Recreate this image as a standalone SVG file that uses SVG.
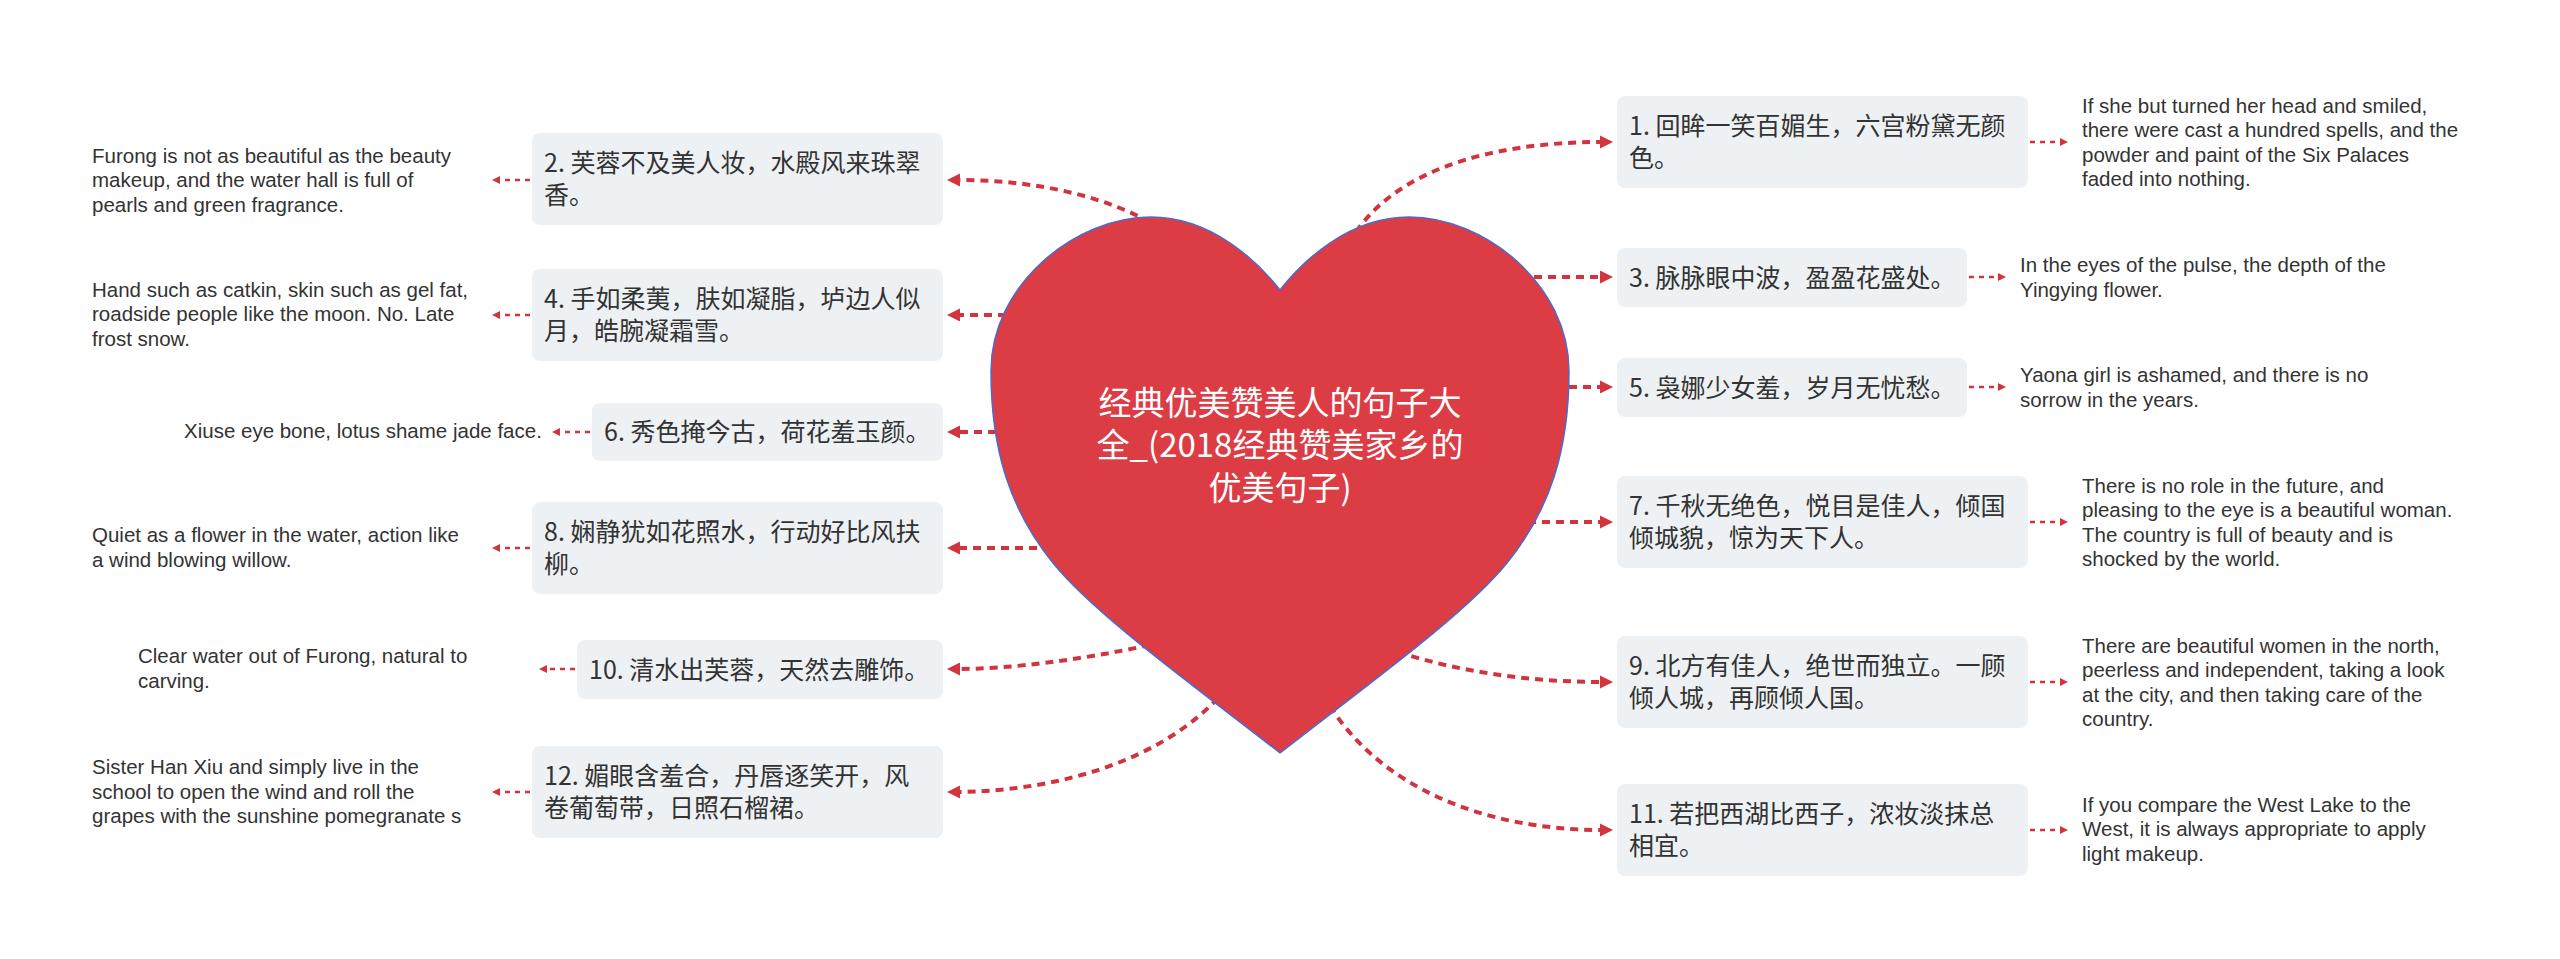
<svg xmlns="http://www.w3.org/2000/svg" width="2560" height="959" viewBox="0 0 2560 959">
<defs>
<style>
.box{fill:#eef1f4;}
.bt{font-family:"Noto Sans CJK SC","Noto Sans CJK TC",sans-serif;font-size:25px;fill:#333333;}
.en{font-family:"Liberation Sans",Arial,sans-serif;font-size:20.5px;fill:#333333;}
.main{fill:none;stroke:#d0343f;stroke-width:4;stroke-dasharray:8 6;marker-end:url(#ab);}
.sub{fill:none;stroke:#d0343f;stroke-width:2.5;stroke-dasharray:5 5;marker-end:url(#as);}
.ct{font-family:"Noto Sans CJK SC","Noto Sans CJK TC",sans-serif;font-size:33px;fill:#ffffff;text-anchor:middle;}
</style>
<marker id="ab" markerUnits="userSpaceOnUse" markerWidth="14" markerHeight="14" refX="3" refY="6.5" orient="auto" overflow="visible">
<path d="M0,0 L13,6.5 L0,13 Z" fill="#d0343f"/>
</marker>
<marker id="as" markerUnits="userSpaceOnUse" markerWidth="9" markerHeight="9" refX="2" refY="4" orient="auto" overflow="visible">
<path d="M0,0 L8,4 L0,8 Z" fill="#d0343f"/>
</marker>
</defs>
<rect width="2560" height="959" fill="#ffffff"/>

<g id="connectors">
<path class="main" d="M1150,222 C1090,190 1020,180 957,180"/>
<path class="main" d="M1020,315 L957,315"/>
<path class="main" d="M1010,432 L957,432"/>
<path class="main" d="M1065,548 L957,548"/>
<path class="main" d="M1150,645 C1080,660 1010,669 957,669"/>
<path class="main" d="M1218,698 C1160,760 1060,791 957,792"/>
<path class="main" d="M1356,232 C1395,175 1480,142 1603,142"/>
<path class="main" d="M1520,277 L1603,277"/>
<path class="main" d="M1555,387 L1603,387"/>
<path class="main" d="M1500,522 L1603,522"/>
<path class="main" d="M1398,652 C1460,672 1530,682 1603,682"/>
<path class="main" d="M1330,706 C1380,785 1480,830 1603,830"/>
<path class="sub" d="M530,180 L498,180"/>
<path class="sub" d="M530,315 L498,315"/>
<path class="sub" d="M590,432 L558,432"/>
<path class="sub" d="M530,548 L498,548"/>
<path class="sub" d="M575,669 L545,669"/>
<path class="sub" d="M530,792 L498,792"/>
<path class="sub" d="M2030,142 L2062,142"/>
<path class="sub" d="M1969,277 L2000,277"/>
<path class="sub" d="M1969,387 L2000,387"/>
<path class="sub" d="M2030,522 L2062,522"/>
<path class="sub" d="M2030,682 L2062,682"/>
<path class="sub" d="M2030,830 L2062,830"/>
</g>

<g id="center">
<path d="M1280,290 C1258,262 1212,217 1151,217 C1075,217 991,285 991,371 C991,450 1010,510 1053,563 C1096,616 1200,690 1280,753 C1360,690 1464,616 1507,563 C1550,510 1569,450 1569,371 C1569,285 1485,217 1409,217 C1348,217 1302,262 1280,290 Z" fill="#dc3d45" stroke="#4a6bd0" stroke-width="1.5"/>
<text class="ct"><tspan x="1280" y="415">经典优美赞美人的句子大</tspan><tspan x="1280" y="457">全_(2018经典赞美家乡的</tspan><tspan x="1280" y="500">优美句子)</tspan></text>
</g>

<g id="n1"><rect class="box" x="1617" y="96" width="411" height="92" rx="8"/><text class="bt" x="1629" y="135">1. 回眸一笑百媚生，六宫粉黛无颜</text><text class="bt" x="1629" y="167">色。</text></g>
<g id="n3"><rect class="box" x="1617" y="248" width="350" height="59" rx="8"/><text class="bt" x="1629" y="287">3. 脉脉眼中波，盈盈花盛处。</text></g>
<g id="n5"><rect class="box" x="1617" y="358" width="350" height="59" rx="8"/><text class="bt" x="1629" y="397">5. 袅娜少女羞，岁月无忧愁。</text></g>
<g id="n7"><rect class="box" x="1617" y="476" width="411" height="92" rx="8"/><text class="bt" x="1629" y="515">7. 千秋无绝色，悦目是佳人，倾国</text><text class="bt" x="1629" y="547">倾城貌，惊为天下人。</text></g>
<g id="n9"><rect class="box" x="1617" y="636" width="411" height="92" rx="8"/><text class="bt" x="1629" y="675">9. 北方有佳人，绝世而独立。一顾</text><text class="bt" x="1629" y="707">倾人城，再顾倾人国。</text></g>
<g id="n11"><rect class="box" x="1617" y="784" width="411" height="92" rx="8"/><text class="bt" x="1629" y="823">11. 若把西湖比西子，浓妆淡抹总</text><text class="bt" x="1629" y="855">相宜。</text></g>

<g id="n2"><rect class="box" x="532" y="133" width="411" height="92" rx="8"/><text class="bt" x="544" y="172">2. 芙蓉不及美人妆，水殿风来珠翠</text><text class="bt" x="544" y="204">香。</text></g>
<g id="n4"><rect class="box" x="532" y="269" width="411" height="92" rx="8"/><text class="bt" x="544" y="308">4. 手如柔荑，肤如凝脂，垆边人似</text><text class="bt" x="544" y="340">月，皓腕凝霜雪。</text></g>
<g id="n6"><rect class="box" x="592" y="403" width="351" height="58" rx="8"/><text class="bt" x="604" y="441">6. 秀色掩今古，荷花羞玉颜。</text></g>
<g id="n8"><rect class="box" x="532" y="502" width="411" height="92" rx="8"/><text class="bt" x="544" y="541">8. 娴静犹如花照水，行动好比风扶</text><text class="bt" x="544" y="573">柳。</text></g>
<g id="n10"><rect class="box" x="577" y="640" width="366" height="59" rx="8"/><text class="bt" x="589" y="679">10. 清水出芙蓉，天然去雕饰。</text></g>
<g id="n12"><rect class="box" x="532" y="746" width="411" height="92" rx="8"/><text class="bt" x="544" y="785">12. 媚眼含羞合，丹唇逐笑开，风</text><text class="bt" x="544" y="817">卷葡萄带，日照石榴裙。</text></g>

<g id="t1"><text class="en" x="2082" y="113">If she but turned her head and smiled,</text><text class="en" x="2082" y="137">there were cast a hundred spells, and the</text><text class="en" x="2082" y="162">powder and paint of the Six Palaces</text><text class="en" x="2082" y="186">faded into nothing.</text></g>
<g id="t3"><text class="en" x="2020" y="272">In the eyes of the pulse, the depth of the</text><text class="en" x="2020" y="297">Yingying flower.</text></g>
<g id="t5"><text class="en" x="2020" y="382">Yaona girl is ashamed, and there is no</text><text class="en" x="2020" y="407">sorrow in the years.</text></g>
<g id="t7"><text class="en" x="2082" y="493">There is no role in the future, and</text><text class="en" x="2082" y="517">pleasing to the eye is a beautiful woman.</text><text class="en" x="2082" y="542">The country is full of beauty and is</text><text class="en" x="2082" y="566">shocked by the world.</text></g>
<g id="t9"><text class="en" x="2082" y="653">There are beautiful women in the north,</text><text class="en" x="2082" y="677">peerless and independent, taking a look</text><text class="en" x="2082" y="702">at the city, and then taking care of the</text><text class="en" x="2082" y="726">country.</text></g>
<g id="t11"><text class="en" x="2082" y="812">If you compare the West Lake to the</text><text class="en" x="2082" y="836">West, it is always appropriate to apply</text><text class="en" x="2082" y="861">light makeup.</text></g>

<g id="t2"><text class="en" x="92" y="163">Furong is not as beautiful as the beauty</text><text class="en" x="92" y="187">makeup, and the water hall is full of</text><text class="en" x="92" y="212">pearls and green fragrance.</text></g>
<g id="t4"><text class="en" x="92" y="297">Hand such as catkin, skin such as gel fat,</text><text class="en" x="92" y="321">roadside people like the moon. No. Late</text><text class="en" x="92" y="346">frost snow.</text></g>
<g id="t6"><text class="en" x="184" y="438">Xiuse eye bone, lotus shame jade face.</text></g>
<g id="t8"><text class="en" x="92" y="542">Quiet as a flower in the water, action like</text><text class="en" x="92" y="567">a wind blowing willow.</text></g>
<g id="t10"><text class="en" x="138" y="663">Clear water out of Furong, natural to</text><text class="en" x="138" y="688">carving.</text></g>
<g id="t12"><text class="en" x="92" y="774">Sister Han Xiu and simply live in the</text><text class="en" x="92" y="799">school to open the wind and roll the</text><text class="en" x="92" y="823">grapes with the sunshine pomegranate s</text></g>
</svg>
